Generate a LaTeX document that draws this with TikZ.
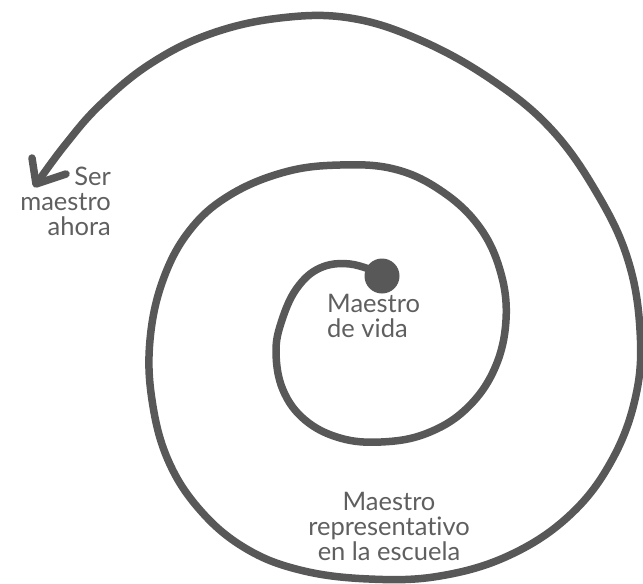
\documentclass[tikz,border=0pt]{standalone}
\usepackage{fontspec}
\setmainfont[Ligatures={NoCommon}]{Lato}
\definecolor{ink}{RGB}{88,88,88}
\definecolor{txt}{RGB}{95,95,95}
\begin{document}
\begin{tikzpicture}[x=1pt,y=-1pt,
  spiral/.style={draw=ink,line width=7.5pt,line cap=round,line join=round},
  lbl/.style={text=txt,font=\fontsize{25.5}{25}\selectfont,inner sep=0pt}]
\useasboundingbox (0,0) rectangle (643,584);
\node[circle,fill=ink,minimum size=35pt,inner sep=0pt] (dot) at (382,276) {};
\draw[spiral] plot[smooth,tension=0.65] coordinates {
 (382,274) (350,264) (320,268) (297,288) (282,320) (276,352) (283,390)
 (305,420) (340,438) (381,442) (425,434) (465,410) (494,370) (506,320)
 (500,270) (478,225) (440,190) (394,169) (340,165) (285,172) (230,195)
 (190,230) (163,280) (150,340) (152,400) (168,460) (200,510) (245,548)
 (300,570) (369,579) (440,576) (510,555) (570,515) (612,460) (636,395)
 (640,330) (628,260) (598,195) (552,130) (492,80) (420,40) (350,18)
 (280,18) (210,34) (150,64) (100,105) (65,145) (37,183)};
\coordinate (tip) at (36,184);
\draw[spiral] (32,158) -- (tip) -- (66,174);
\node[lbl,anchor=north east,align=right] (ser) at (111,167) {Ser\\maestro\\ahora};
\node[lbl,anchor=north west,align=left] (vida) at (327,294) {Maestro\\de vida};
\node[lbl,anchor=north,align=center] (escuela) at (389,492) {Maestro\\representativo\\en la escuela};
\end{tikzpicture}
\end{document}
